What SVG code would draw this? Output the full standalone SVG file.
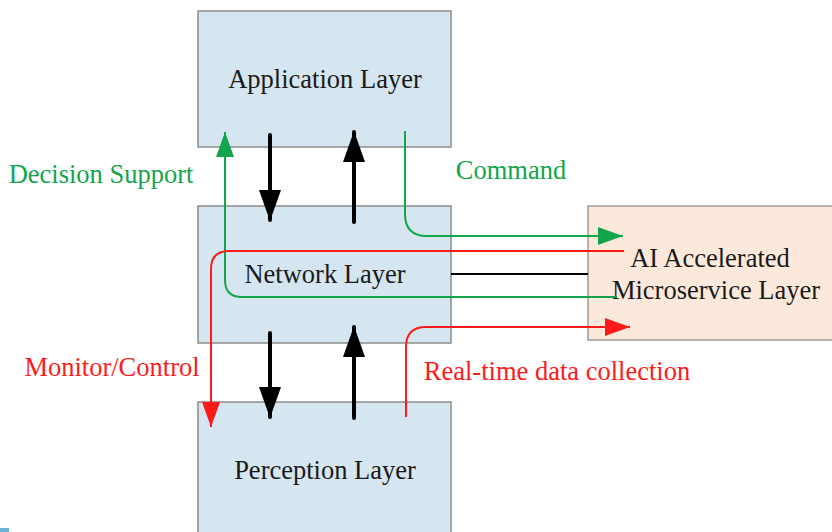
<svg xmlns="http://www.w3.org/2000/svg" width="832" height="532" viewBox="0 0 832 532">
<style>
.layer{fill:#d5e6f0;stroke:#8c8c8c;stroke-width:1.5}
.ai{fill:#fde9dc;stroke:#9a9a9a;stroke-width:1.5}
.t{font-family:"Liberation Serif","Times New Roman",serif;font-size:26.5px;fill:#1a1a1a;text-anchor:middle}
.g{fill:#13a54b}
.r{fill:#ff1a1a}
.thick{stroke:#000;stroke-width:4;fill:none;stroke-linecap:round}
.gl{stroke:#13a54b;stroke-width:2;fill:none}
.rl{stroke:#ff1a1a;stroke-width:2;fill:none}
</style>
<defs>
<marker id="hb" markerUnits="userSpaceOnUse" markerWidth="32" markerHeight="22" refX="30" refY="11" orient="auto"><path d="M0,0 L31,11 L0,22 z" fill="#000"/></marker>
<marker id="hg" markerUnits="userSpaceOnUse" markerWidth="26" markerHeight="18" refX="25" refY="9" orient="auto"><path d="M0,0 L25,9 L0,18 z" fill="#13a54b"/></marker>
<marker id="hr" markerUnits="userSpaceOnUse" markerWidth="26" markerHeight="18" refX="25" refY="9" orient="auto"><path d="M0,0 L25,9 L0,18 z" fill="#ff1a1a"/></marker>
</defs>
<g id="application"><rect class="layer" x="198" y="11" width="253" height="136"/><text class="t" x="325" y="88">Application Layer</text></g>
<g id="network"><rect class="layer" x="198" y="206" width="253" height="137"/><text class="t" x="325" y="283">Network Layer</text></g>
<g id="perception"><rect class="layer" x="198" y="402" width="253" height="140"/><text class="t" x="325" y="479">Perception Layer</text></g>
<g id="ai"><rect class="ai" x="588" y="206" width="250" height="134"/><text class="t" x="710" y="267">AI Accelerated</text><text class="t" x="716" y="299">Microservice Layer</text></g>
<rect x="0" y="528" width="9" height="4" fill="#6ab4d4"/>
<g id="connectors">
<path class="thick" d="M270,135 V220" marker-end="url(#hb)"/>
<path class="thick" d="M354,222 V132" marker-end="url(#hb)"/>
<path class="thick" d="M270,333 V417" marker-end="url(#hb)"/>
<path class="thick" d="M354,418 V327" marker-end="url(#hb)"/>
<path class="gl" d="M617,297 H242 Q225,297 225,280 V132" marker-end="url(#hg)"/>
<path class="gl" d="M405,131 V214 Q405,236 427,236 H623" marker-end="url(#hg)"/>
<path class="rl" d="M624,251 H229 Q211,251 211,269 V427" marker-end="url(#hr)"/>
<path class="rl" d="M406,417 V347 Q406,327 426,327 H630" marker-end="url(#hr)"/>
<path d="M451,274 H588" stroke="#000" stroke-width="2" fill="none"/>
</g>
<g id="labels">
<text class="t g" x="101" y="183">Decision Support</text>
<text class="t g" x="511" y="179">Command</text>
<text class="t r" x="112" y="376">Monitor/Control</text>
<text class="t r" x="557" y="380">Real-time data collection</text>
</g>
</svg>
